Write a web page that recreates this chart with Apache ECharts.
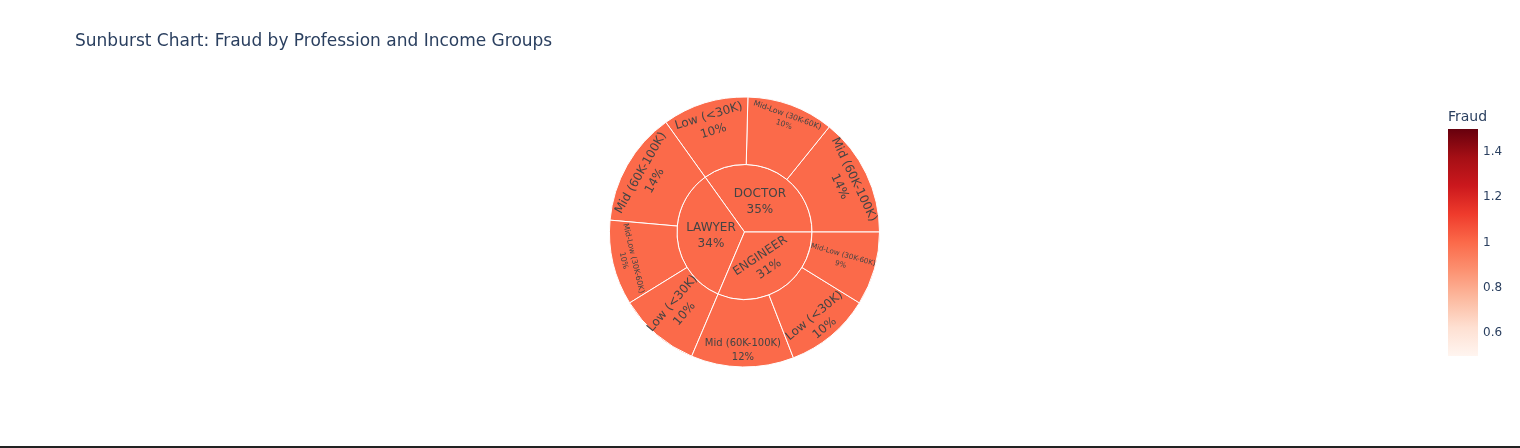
<!DOCTYPE html>
<html>
<head>
<meta charset="utf-8">
<script src="https://cdn.jsdelivr.net/npm/echarts@6/dist/echarts.min.js"></script>
<style>
html,body{margin:0;padding:0;background:#fff;}
#chart{width:1520px;height:448px;}
</style>
</head>
<body>
<div id="chart"></div>
<script>
// ---------- DATA ----------
const professions = ['DOCTOR', 'LAWYER', 'ENGINEER'];
const doctorGroups = ['Mid (60K-100K)', 'Mid-Low (30K-60K)', 'Low (<30K)'];
const doctorValues = [142, 104, 103];
const lawyerGroups = ['Mid (60K-100K)', 'Mid-Low (30K-60K)', 'Low (<30K)'];
const lawyerValues = [137, 102, 98];
const engineerGroups = ['Mid (60K-100K)', 'Low (<30K)', 'Mid-Low (30K-60K)'];
const engineerValues = [123, 103, 88];
const doctorFraud = [1, 1, 1];
const lawyerFraud = [1, 1, 1];
const engineerFraud = [1, 1, 1];
const colorMin = 0.5, colorMax = 1.5;
const colorTicks = [0.6, 0.8, 1, 1.2, 1.4];
const redsScale = ['rgb(255,245,240)', 'rgb(254,224,210)', 'rgb(252,187,161)', 'rgb(252,146,114)',
  'rgb(251,106,74)', 'rgb(239,59,44)', 'rgb(203,24,29)', 'rgb(165,15,21)', 'rgb(103,0,13)'];

// ---------- STYLE (label rotation / size / radial shift per node) ----------
// shift: outward offset in px; dir: 'up' if text-up points outward, 'down' otherwise
const labelStyle = {
  'DOCTOR': {rot: 0, fs: 12, shift: 0},
  'LAWYER': {rot: 0, fs: 12, shift: 0},
  'ENGINEER': {rot: 33.5, fs: 12, shift: 3, dir: 'down'},
  'DOCTOR/Mid (60K-100K)': {rot: -64.5, fs: 12, shift: 12, dir: 'up'},
  'DOCTOR/Mid-Low (30K-60K)': {rot: -20, fs: 7.7, shift: 18, dir: 'up'},
  'DOCTOR/Low (<30K)': {rot: 17, fs: 12, shift: 12, dir: 'up'},
  'LAWYER/Mid (60K-100K)': {rot: 60.3, fs: 12, shift: 10, dir: 'up'},
  'LAWYER/Mid-Low (30K-60K)': {rot: -76.7, fs: 7.7, shift: 18, dir: 'down'},
  'LAWYER/Low (<30K)': {rot: 49.4, fs: 12, shift: 0},
  'ENGINEER/Mid (60K-100K)': {rot: 0, fs: 10, shift: 17, dir: 'down'},
  'ENGINEER/Low (<30K)': {rot: 39.8, fs: 12, shift: 16, dir: 'down'},
  'ENGINEER/Mid-Low (30K-60K)': {rot: -15.8, fs: 7.2, shift: 0}
};

function parseRgb(s) { return s.match(/\d+/g).map(Number); }
function scaleColor(v) {
  let t = (v - colorMin) / (colorMax - colorMin);
  t = Math.max(0, Math.min(1, t));
  const pos = t * (redsScale.length - 1);
  const i = Math.min(Math.floor(pos), redsScale.length - 2);
  const f = pos - i;
  const a = parseRgb(redsScale[i]), b = parseRgb(redsScale[i + 1]);
  const c = a.map((x, k) => Math.round(x + (b[k] - x) * f));
  return 'rgb(' + c.join(',') + ')';
}

const groupsBy = [doctorGroups, lawyerGroups, engineerGroups];
const valuesBy = [doctorValues, lawyerValues, engineerValues];
const fraudBy = [doctorFraud, lawyerFraud, engineerFraud];
let total = 0;
valuesBy.forEach(a => a.forEach(v => total += v));

const rich = {};
Object.keys(labelStyle).forEach(k => {
  const h = 2 * labelStyle[k].shift;
  if (h > 0) rich['s' + h] = {fontSize: 1, lineHeight: h, height: h};
});

function mkLabel(key) {
  const s = labelStyle[key];
  return {rotate: s.rot, fontSize: s.fs, lineHeight: Math.round(s.fs * 1.35)};
}

const sunData = professions.map((p, i) => {
  const sum = valuesBy[i].reduce((a, b) => a + b, 0);
  const fr = fraudBy[i].reduce((a, b, k) => a + b * valuesBy[i][k], 0) / sum;
  return {
    name: p,
    path: p,
    value: sum,
    itemStyle: {color: scaleColor(fr)},
    label: mkLabel(p),
    children: groupsBy[i].map((g, j) => ({
      name: g,
      path: p + '/' + g,
      value: valuesBy[i][j],
      itemStyle: {color: scaleColor(fraudBy[i][j])},
      label: mkLabel(p + '/' + g)
    }))
  };
});

const gradStops = redsScale.map((c, i) => ({offset: i / (redsScale.length - 1), color: c}));

const chart = echarts.init(document.getElementById('chart'), null, {renderer: 'canvas'});
const FONT = '"DejaVu Sans", verdana, arial, sans-serif';
chart.setOption({
  backgroundColor: '#fff',
  animation: false,
  textStyle: {fontFamily: FONT},
  title: {
    text: 'Sunburst Chart: Fraud by Profession and Income Groups',
    left: 70, top: 28,
    textStyle: {fontFamily: FONT, fontSize: 17, fontWeight: 'normal', color: '#2a3f5f'}
  },
  grid: {left: 1448, top: 129, width: 30, height: 227},
  xAxis: {type: 'value', show: false, min: 0, max: 1},
  yAxis: {
    type: 'value', position: 'right', min: colorMin, max: colorMax, interval: 0.1,
    axisLine: {show: false}, axisTick: {show: false}, splitLine: {show: false},
    axisLabel: {
      margin: 5, fontSize: 12, color: '#2a3f5f', fontFamily: FONT,
      formatter: function (v) {
        const hit = colorTicks.find(t => Math.abs(t - v) < 1e-6);
        return hit === undefined ? '' : String(hit);
      }
    }
  },
  graphic: [
    {type: 'rect', shape: {x: 1448, y: 129, width: 30, height: 227},
     style: {fill: {type: 'linear', x: 0, y: 1, x2: 0, y2: 0, colorStops: gradStops}}, silent: true},
    {type: 'text', left: 1448, top: 110,
     style: {text: 'Fraud', fontSize: 14, fill: '#2a3f5f', fontFamily: FONT}, silent: true},
    {type: 'rect', shape: {x: 0, y: 446, width: 1520, height: 2}, style: {fill: '#222'}, silent: true}
  ],
  series: [{
    type: 'sunburst',
    center: [744.5, 232],
    radius: [0, 135],
    startAngle: 0,
    clockwise: false,
    sort: null,
    nodeClick: false,
    emphasis: {focus: 'none'},
    data: sunData,
    itemStyle: {borderColor: '#fff', borderWidth: 1},
    label: {
      color: '#444', fontFamily: FONT, align: 'center', verticalAlign: 'middle',
      minAngle: 0,
      rich: rich,
      formatter: function (p) {
        const txt = p.name + '\n' + Math.round(p.value / total * 100) + '%';
        const s = p.data && labelStyle[p.data.path];
        if (!s || !s.shift) return txt;
        const sp = '{s' + (2 * s.shift) + '| }';
        return s.dir === 'up' ? txt + '\n' + sp : sp + '\n' + txt;
      }
    },
    levels: [{}, {r0: 0, r: 67.5}, {r0: 67.5, r: 135}]
  }]
});
</script>
</body>
</html>
